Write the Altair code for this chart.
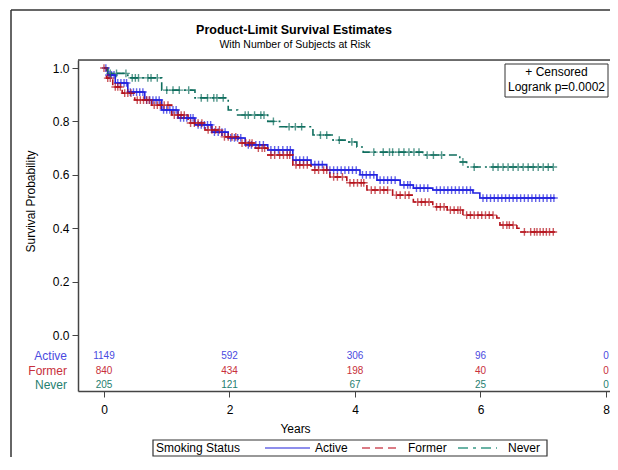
import altair as alt
import pandas as pd

FONT = "Liberation Sans"

groups = ["Active", "Former", "Never"]
curve_colors = ["#2020e0", "#b5121b", "#0f6e5e"]
table_colors = ["#4a4ae0", "#c8303c", "#1f8070"]
legend_colors = ["#6a6ae6", "#d0505e", "#3a9a88"]
legend_dashes = [[1, 0], [8, 5], [10, 5, 3, 5]]

# Kaplan-Meier step points (time in years, survival probability)
active_t = [0, 0.06, 0.18, 0.38, 0.65, 0.92, 1.18, 1.45, 1.72, 1.98, 2.25, 2.61, 3.01, 3.30, 3.55, 4.08, 4.35, 4.72, 4.93, 5.24, 5.88, 5.99, 7.19]
active_s = [1.0, 0.974, 0.944, 0.91, 0.88, 0.843, 0.813, 0.787, 0.76, 0.738, 0.712, 0.693, 0.655, 0.638, 0.618, 0.60, 0.58, 0.562, 0.55, 0.543, 0.532, 0.513, 0.513]

former_t = [0, 0.04, 0.14, 0.29, 0.49, 0.76, 1.08, 1.34, 1.61, 1.88, 2.14, 2.41, 2.61, 3.01, 3.30, 3.60, 3.87, 4.19, 4.60, 4.93, 5.24, 5.47, 5.72, 6.26, 6.31, 6.58, 6.63, 7.19]
former_s = [1.0, 0.962, 0.929, 0.906, 0.88, 0.861, 0.824, 0.794, 0.768, 0.742, 0.719, 0.70, 0.674, 0.637, 0.618, 0.592, 0.57, 0.543, 0.524, 0.498, 0.48, 0.468, 0.449, 0.438, 0.412, 0.40, 0.386, 0.386]

never_t = [0, 0.06, 0.38, 0.92, 1.45, 1.98, 2.13, 2.61, 2.80, 3.33, 3.65, 3.87, 4.03, 4.13, 5.08, 5.67, 5.78, 7.19]
never_s = [1.0, 0.98, 0.963, 0.917, 0.888, 0.843, 0.824, 0.80, 0.78, 0.749, 0.73, 0.723, 0.704, 0.685, 0.674, 0.648, 0.629, 0.629]

# censoring times read from the "+" marks
active_c = [0.03, 0.08, 0.12, 0.16, 0.22, 0.27, 0.32, 0.36, 0.42, 0.47, 0.52, 0.57, 0.62, 0.68, 0.73, 0.78, 0.83, 0.88, 0.95, 1.0, 1.05, 1.1, 1.15, 1.22, 1.27, 1.32, 1.38, 1.42, 1.5, 1.55, 1.6, 1.65, 1.7, 1.76, 1.82, 1.88, 1.93, 2.02, 2.08, 2.13, 2.18, 2.3, 2.35, 2.42, 2.48, 2.54, 2.66, 2.72, 2.78, 2.85, 2.92, 2.97, 3.06, 3.12, 3.18, 3.24, 3.36, 3.42, 3.48, 3.6, 3.66, 3.72, 3.78, 3.84, 3.9, 3.96, 4.02, 4.12, 4.18, 4.24, 4.3, 4.4, 4.46, 4.52, 4.58, 4.64, 4.78, 4.84, 4.88, 4.98, 5.04, 5.1, 5.16, 5.3, 5.36, 5.42, 5.48, 5.54, 5.6, 5.66, 5.72, 5.78, 5.84, 6.04, 6.1, 6.16, 6.22, 6.28, 6.34, 6.4, 6.46, 6.52, 6.58, 6.64, 6.7, 6.76, 6.82, 6.88, 6.94, 7.0, 7.06, 7.12, 7.17]
former_c = [0.0, 0.06, 0.1, 0.18, 0.22, 0.26, 0.33, 0.38, 0.43, 0.53, 0.58, 0.63, 0.68, 0.72, 0.8, 0.85, 0.9, 0.96, 1.02, 1.12, 1.18, 1.23, 1.28, 1.38, 1.44, 1.5, 1.56, 1.66, 1.72, 1.78, 1.84, 1.92, 1.98, 2.04, 2.1, 2.2, 2.26, 2.32, 2.36, 2.46, 2.52, 2.56, 2.66, 2.72, 2.8, 2.86, 2.92, 2.96, 3.06, 3.12, 3.18, 3.24, 3.36, 3.42, 3.5, 3.55, 3.66, 3.72, 3.8, 3.92, 3.98, 4.04, 4.1, 4.14, 4.26, 4.32, 4.4, 4.46, 4.52, 4.66, 4.72, 4.8, 4.86, 5.0, 5.06, 5.12, 5.18, 5.3, 5.36, 5.42, 5.52, 5.58, 5.64, 5.68, 5.78, 5.84, 5.9, 5.96, 6.02, 6.08, 6.14, 6.2, 6.36, 6.42, 6.46, 6.52, 6.7, 6.8, 6.86, 6.9, 6.95, 7.0, 7.05, 7.1, 7.16]
never_c = [0.1, 0.2, 0.35, 0.45, 0.5, 0.55, 0.7, 0.75, 0.85, 1.0, 1.1, 1.2, 1.35, 1.55, 1.65, 1.75, 1.8, 1.9, 2.25, 2.3, 2.4, 2.5, 2.55, 2.7, 2.95, 3.05, 3.15, 3.45, 3.55, 3.75, 3.95, 4.3, 4.45, 4.55, 4.6, 4.7, 4.78, 4.86, 4.94, 5.02, 5.15, 5.25, 5.38, 5.72, 5.9, 6.2, 6.28, 6.36, 6.44, 6.52, 6.6, 6.68, 6.76, 6.84, 6.92, 7.0, 7.08, 7.16]

# number at risk
risk_times = [0, 2, 4, 6, 8]
risk_active = [1149, 592, 306, 96, 0]
risk_former = [840, 434, 198, 40, 0]
risk_never = [205, 121, 67, 25, 0]

curves = {"Active": (active_t, active_s, active_c, risk_active),
          "Former": (former_t, former_s, former_c, risk_former),
          "Never": (never_t, never_s, never_c, risk_never)}


def step_value(ts, ss, t):
    v = ss[0]
    for ti, si in zip(ts, ss):
        if ti <= t:
            v = si
    return v


line_rows, cens_rows = [], []
for g, clr in zip(groups, curve_colors):
    ts, ss, cs, _ = curves[g]
    for t, s in zip(ts, ss):
        line_rows.append({"group": g, "t": t, "s": s})
    for t in cs:
        cens_rows.append({"group": g, "t": t, "s": step_value(ts, ss, t), "clr": clr})
line_df = pd.DataFrame(line_rows)
cens_df = pd.DataFrame(cens_rows)

W, H = 532, 331
xs = alt.Scale(domain=[-0.414, 8.064], nice=False, zero=False)
ys = alt.Scale(domain=[-0.2097, 1.03], nice=False, zero=False)

lines = alt.Chart(line_df).mark_line(interpolate="step-after", strokeWidth=1.6).encode(
    x=alt.X("t:Q", scale=xs, axis=alt.Axis(values=risk_times, format="d", tickSize=6, labelFontSize=12,
                                          labelFont=FONT, labelColor="black", labelPadding=7,
                                          domainColor="#444", tickColor="#444", domainWidth=1.5,
                                          grid=False, title="Years", titleFontSize=12, titleFont=FONT,
                                          titleFontWeight="normal", titleX=217, titleY=37,
                                          titleBaseline="middle", titleAlign="center", titleColor="black")),
    y=alt.Y("s:Q", scale=ys, axis=alt.Axis(values=[0, 0.2, 0.4, 0.6, 0.8, 1.0], format=".1f", tickSize=6,
                                          labelFontSize=12, labelFont=FONT, labelColor="black",
                                          labelPadding=3, domainColor="#444", tickColor="#444",
                                          domainWidth=1.5, grid=False, title="Survival Probability",
                                          titleFontSize=12, titleFont=FONT, titleFontWeight="normal",
                                          titleX=-48, titleY=141, titleBaseline="middle",
                                          titleAlign="center", titleColor="black")),
    color=alt.Color("group:N", scale=alt.Scale(domain=groups, range=curve_colors), legend=None),
    strokeDash=alt.StrokeDash("group:N", scale=alt.Scale(domain=groups, range=[[1, 0], [6, 4], [8, 4, 2, 4]]),
                              legend=None),
)

cens = alt.Chart(cens_df).mark_point(shape="M-1,0L1,0M0,-1L0,1", size=60, filled=False, strokeWidth=1.4).encode(
    x=alt.X("t:Q", scale=xs), y=alt.Y("s:Q", scale=ys), stroke=alt.Color("clr:N", scale=None)
)

layers = [lines, cens]

one = pd.DataFrame({"a": [0]})

row_y = [296, 311, 325]
for g, clr, ry in zip(groups, table_colors, row_y):
    df = pd.DataFrame({"t": risk_times, "n": curves[g][3]})
    layers.append(alt.Chart(df).mark_text(fontSize=10, font=FONT, color=clr, baseline="middle").encode(
        x=alt.X("t:Q", scale=xs), y=alt.value(ry), text="n:Q"))
    layers.append(alt.Chart(pd.DataFrame({"g": [g]})).mark_text(
        fontSize=12, font=FONT, color=clr, align="right", baseline="middle").encode(
        x=alt.value(-11), y=alt.value(ry), text="g:N"))

# plot top border
layers.append(alt.Chart(one).mark_rule(color="#444", strokeWidth=1.5).encode(
    x=alt.value(0), x2=alt.value(W), y=alt.value(0)))
# outer frame
layers.append(alt.Chart(one).mark_rule(color="#333", strokeWidth=1.5).encode(
    x=alt.value(-67), x2=alt.value(W), y=alt.value(-50)))
layers.append(alt.Chart(one).mark_rule(color="#333", strokeWidth=1.5).encode(
    x=alt.value(-67), y=alt.value(-50), y2=alt.value(H + 70)))
# inset box
layers.append(alt.Chart(one).mark_rect(fill="white", stroke="#333", strokeWidth=1).encode(
    x=alt.value(427), x2=alt.value(530), y=alt.value(4), y2=alt.value(37)))
layers.append(alt.Chart(pd.DataFrame({"txt": ["+ Censored"]})).mark_text(
    fontSize=12, font=FONT, color="black", baseline="middle").encode(
    x=alt.value(478.5), y=alt.value(12), text="txt:N"))
layers.append(alt.Chart(pd.DataFrame({"txt": ["Logrank p=0.0002"]})).mark_text(
    fontSize=12, font=FONT, color="black", baseline="middle").encode(
    x=alt.value(478.5), y=alt.value(27), text="txt:N"))

# titles
layers.append(alt.Chart(pd.DataFrame({"txt": ["Product-Limit Survival Estimates"]})).mark_text(
    fontSize=12.5, font=FONT, fontWeight="bold", color="black", baseline="middle").encode(
    x=alt.value(216), y=alt.value(-30), text="txt:N"))
layers.append(alt.Chart(pd.DataFrame({"txt": ["With Number of Subjects at Risk"]})).mark_text(
    fontSize=10.5, font=FONT, color="black", baseline="middle").encode(
    x=alt.value(217), y=alt.value(-15), text="txt:N"))

# legend box at bottom
LY = 388
layers.append(alt.Chart(one).mark_rect(fill="white", stroke="#333", strokeWidth=1.2).encode(
    x=alt.value(75), x2=alt.value(469), y=alt.value(LY - 8), y2=alt.value(LY + 8)))
layers.append(alt.Chart(pd.DataFrame({"txt": ["Smoking Status"]})).mark_text(
    fontSize=12, font=FONT, color="black", baseline="middle", align="left").encode(
    x=alt.value(78), y=alt.value(LY), text="txt:N"))
seg_x = [(187, 232), (284, 322), (380, 419)]
lab_x = [237, 330, 430]
for g, clr, dash, (x1, x2), lx in zip(groups, legend_colors, legend_dashes, seg_x, lab_x):
    layers.append(alt.Chart(pd.DataFrame({"g": [g]})).mark_rule(color=clr, strokeWidth=1.5, strokeDash=dash).encode(
        x=alt.value(x1), x2=alt.value(x2), y=alt.value(LY)))
    layers.append(alt.Chart(pd.DataFrame({"g": [g]})).mark_text(
        fontSize=12, font=FONT, color="black", baseline="middle", align="left").encode(
        x=alt.value(lx), y=alt.value(LY), text="g:N"))

chart = alt.layer(*layers).properties(
    width=W, height=H,
    autosize=alt.AutoSizeParams(type="none"),
    padding={"left": 70, "top": 52, "right": 0, "bottom": 66},
).configure_view(stroke=None).configure(background="white")

chart.save("out.html", embed_options={"renderer": "svg", "actions": False})
